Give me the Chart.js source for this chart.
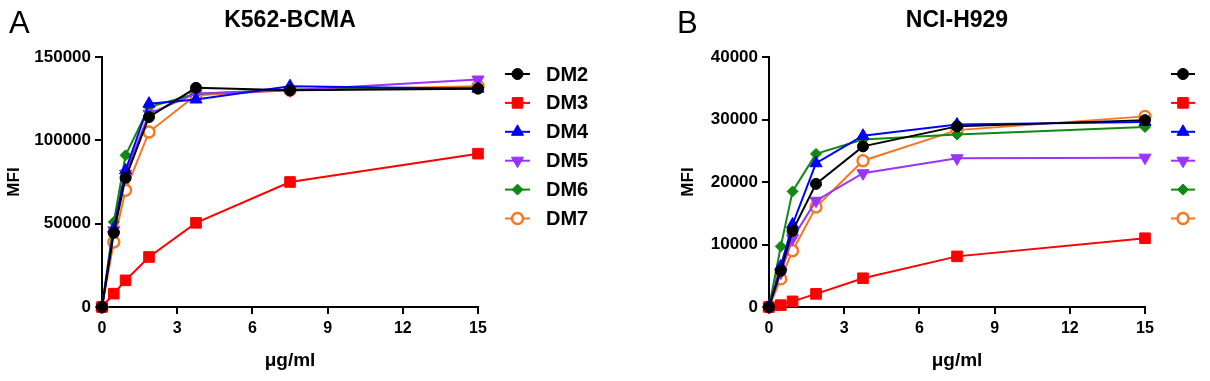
<!DOCTYPE html>
<html>
<head>
<meta charset="utf-8">
<script src="https://cdn.jsdelivr.net/npm/chart.js@4/dist/chart.umd.min.js"></script>
<style>
  html, body { margin: 0; padding: 0; background: #fff; }
  #wrap { position: relative; width: 1210px; height: 381px; }
  .pane { position: absolute; top: 0; width: 605px; height: 381px; }
  #pa { left: 0; }
  #pb { left: 605px; }
</style>
</head>
<body>
<div id="wrap">
  <div class="pane" id="pa"><canvas id="ca" width="605" height="381"></canvas></div>
  <div class="pane" id="pb"><canvas id="cb" width="605" height="381"></canvas></div>
</div>
<script>
// ---- data ----
const concentrations = [0, 0.47, 0.94, 1.875, 3.75, 7.5, 15];
const seriesNames = ['DM2', 'DM3', 'DM4', 'DM5', 'DM6', 'DM7'];
const xTickValues = [0, 3, 6, 9, 12, 15];

// Panel A: K562-BCMA
const k562_DM2 = [0, 44500, 77500, 114000, 131500, 130000, 131000];
const k562_DM3 = [0, 8000, 16000, 30000, 50500, 75000, 92000];
const k562_DM4 = [0, 47000, 82000, 122000, 124500, 132500, 131000];
const k562_DM5 = [0, 46000, 80000, 116000, 128000, 130000, 136500];
const k562_DM6 = [0, 51000, 91000, 120000, 128000, 130500, 131500];
const k562_DM7 = [0, 39000, 70000, 105000, 127000, 130000, 132500];
const k562Ticks = [0, 50000, 100000, 150000];

// Panel B: NCI-H929
const h929_DM2 = [0, 5800, 12200, 19700, 25700, 28900, 29900];
const h929_DM3 = [0, 300, 900, 2100, 4600, 8100, 11000];
const h929_DM4 = [0, 6500, 13200, 23000, 27400, 29200, 29600];
const h929_DM5 = [0, 5500, 11000, 17000, 21400, 23800, 23900];
const h929_DM6 = [0, 9700, 18500, 24500, 26800, 27600, 28800];
const h929_DM7 = [0, 4500, 9000, 16000, 23400, 28300, 30500];
const h929Ticks = [0, 10000, 20000, 30000, 40000];

// ---- styles ----
const FONT = "'Liberation Sans', Arial, Helvetica, sans-serif";
const styles = [
  { color: '#000000', pointStyle: 'circle',   radius: 5.5, rotation: 0,   fill: '#000000', bw: 1 },
  { color: '#ff0000', pointStyle: 'rect',     radius: 7.5, rotation: 0,   fill: '#ff0000', bw: 1 },
  { color: '#0000ff', pointStyle: 'triangle', radius: 7,   rotation: 0,   fill: '#0000ff', bw: 1 },
  { color: '#9933ff', pointStyle: 'triangle', radius: 7,   rotation: 180, fill: '#9933ff', bw: 1 },
  { color: '#118811', pointStyle: 'rectRot',  radius: 5.5, rotation: 0,   fill: '#118811', bw: 1 },
  { color: '#f7761e', pointStyle: 'circle',   radius: 5.5, rotation: 0,   fill: '#ffffff', bw: 2.4 }
];

function makeDatasets(arrs) {
  return arrs.map((vals, i) => {
    const s = styles[i];
    return {
      label: seriesNames[i],
      data: concentrations.map((c, k) => ({ x: c, y: vals[k] })),
      borderColor: s.color,
      backgroundColor: s.fill,
      borderWidth: 2,
      pointStyle: s.pointStyle,
      pointRadius: s.radius,
      pointRotation: s.rotation,
      pointBackgroundColor: s.fill,
      pointBorderColor: s.color,
      pointBorderWidth: s.bw,
      tension: 0,
      clip: false
    };
  });
}

function decorPlugin(cfg) {
  return {
    id: 'decor',
    afterDraw(chart) {
      const ctx = chart.ctx;
      const area = chart.chartArea;
      ctx.save();
      ctx.fillStyle = '#000';
      ctx.textBaseline = 'alphabetic';
      ctx.textAlign = 'left';
      ctx.font = '31px ' + FONT;
      ctx.fillText(cfg.letter, cfg.letterX, 33);
      ctx.font = 'bold 23px ' + FONT;
      ctx.textAlign = 'center';
      ctx.fillText(cfg.title, (area.left + area.right) / 2, 27);
      chart.data.datasets.forEach((ds, i) => {
        const y = 74 + i * 28.9;
        ctx.strokeStyle = ds.borderColor;
        ctx.lineWidth = 2;
        ctx.beginPath();
        ctx.moveTo(cfg.legX1, y);
        ctx.lineTo(cfg.legX2, y);
        ctx.stroke();
        ctx.fillStyle = ds.pointBackgroundColor;
        ctx.strokeStyle = ds.pointBorderColor;
        ctx.lineWidth = ds.pointBorderWidth;
        Chart.helpers.drawPoint(ctx, {
          pointStyle: ds.pointStyle,
          radius: ds.pointRadius,
          rotation: ds.pointRotation,
          borderWidth: ds.pointBorderWidth
        }, (cfg.legX1 + cfg.legX2) / 2, y);
        if (cfg.showText) {
          ctx.fillStyle = '#000';
          ctx.font = 'bold 20px ' + FONT;
          ctx.textAlign = 'left';
          ctx.textBaseline = 'middle';
          ctx.fillText(ds.label, cfg.textX, y + 1);
        }
      });
      ctx.restore();
    }
  };
}

function makeChart(canvasId, arrs, yTicks, cfg) {
  const yMax = yTicks[yTicks.length - 1];
  const yStep = yTicks[1] - yTicks[0];
  return new Chart(document.getElementById(canvasId), {
    type: 'line',
    data: { datasets: makeDatasets(arrs) },
    options: {
      responsive: false,
      animation: false,
      events: [],
      layout: { padding: { left: 0, top: 57, right: 605 - cfg.areaRight, bottom: 0 } },
      plugins: { legend: { display: false }, tooltip: { enabled: false }, title: { display: false } },
      scales: {
        x: {
          type: 'linear',
          min: 0, max: 15,
          afterBuildTicks(scale) { scale.ticks = xTickValues.map(v => ({ value: v })); },
          afterFit(scale) { scale.height = 74; },
          grid: { display: true, drawOnChartArea: false, drawTicks: true, tickLength: 7, tickColor: '#000', lineWidth: 2 },
          border: { display: true, color: '#000', width: 2 },
          ticks: { color: '#000', padding: 5, font: { family: FONT, size: 16, weight: 'bold' }, maxRotation: 0 },
          title: { display: true, text: 'μg/ml', color: '#000', font: { family: FONT, size: 19, weight: 'bold' }, padding: { top: 0, bottom: 8.5 } }
        },
        y: {
          min: 0, max: yMax,
          afterBuildTicks(scale) { scale.ticks = yTicks.map(v => ({ value: v })); },
          afterFit(scale) { scale.width = cfg.areaLeft; },
          grid: { display: true, drawOnChartArea: false, drawTicks: true, tickLength: 7, tickColor: '#000', lineWidth: 2 },
          border: { display: true, color: '#000', width: 2 },
          ticks: { color: '#000', padding: 4, stepSize: yStep, font: { family: FONT, size: 17, weight: 'bold' }, callback: v => String(v) },
          title: { display: true, text: 'MFI', color: '#000', font: { family: FONT, size: 17, weight: 'bold' }, padding: { top: cfg.mfiPad, bottom: 0 } }
        }
      }
    },
    plugins: [decorPlugin(cfg)]
  });
}

makeChart('ca', [k562_DM2, k562_DM3, k562_DM4, k562_DM5, k562_DM6, k562_DM7], k562Ticks, {
  letter: 'A', letterX: 9, title: 'K562-BCMA',
  areaLeft: 102, areaRight: 478, mfiPad: 4,
  legX1: 505, legX2: 530, textX: 546, showText: true
});
makeChart('cb', [h929_DM2, h929_DM3, h929_DM4, h929_DM5, h929_DM6, h929_DM7], h929Ticks, {
  letter: 'B', letterX: 677 - 605, title: 'NCI-H929',
  areaLeft: 769 - 605, areaRight: 1145 - 605, mfiPad: 73,
  legX1: 1171 - 605, legX2: 1195 - 605, textX: 0, showText: false
});
</script>
</body>
</html>
